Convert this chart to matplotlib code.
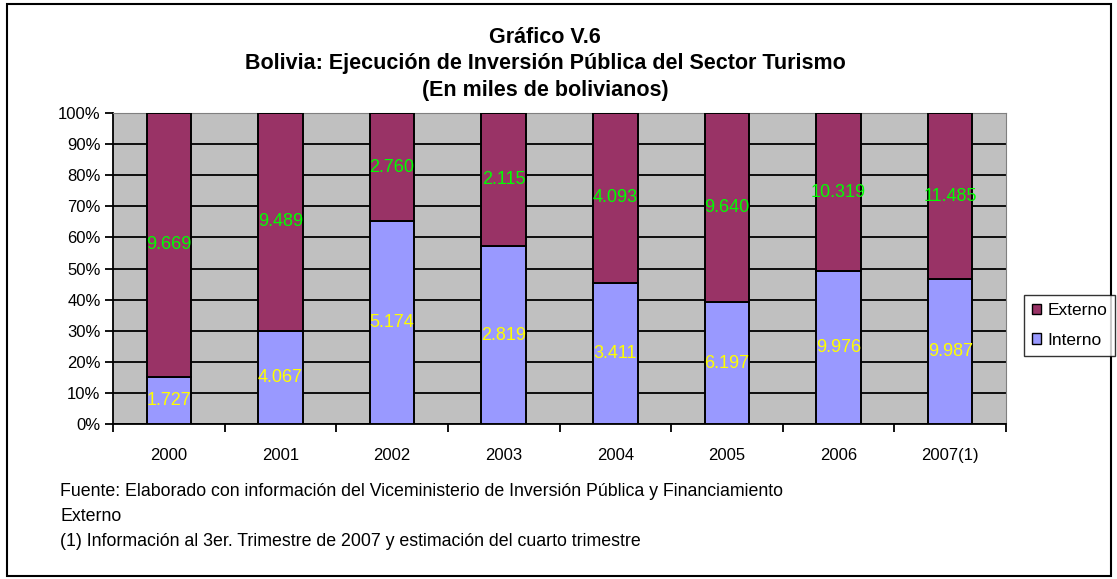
import numpy as np
import matplotlib
matplotlib.use("Agg")
import matplotlib.pyplot as plt
import matplotlib.patches as mpatches
from matplotlib.ticker import FixedLocator, PercentFormatter

plt.rcParams['font.family'] = ['Liberation Sans', 'DejaVu Sans']

# data (miles de bolivianos)
years = ['2000', '2001', '2002', '2003', '2004', '2005', '2006', '2007(1)']
interno = [1727, 4067, 5174, 2819, 3411, 6197, 9976, 9987]
externo = [9669, 9489, 2760, 2115, 4093, 9640, 10319, 11485]
interno_lbl = ['1.727', '4.067', '5.174', '2.819', '3.411', '6.197', '9.976', '9.987']
externo_lbl = ['9.669', '9.489', '2.760', '2.115', '4.093', '9.640', '10.319', '11.485']

title = 'Gráfico V.6\nBolivia: Ejecución de Inversión Pública del Sector Turismo\n(En miles de bolivianos)'
notes = ['Fuente: Elaborado con información del Viceministerio de Inversión Pública y Financiamiento',
         'Externo',
         '(1) Información al 3er. Trimestre de 2007 y estimación del cuarto trimestre']

c_int = '#9999FF'
c_ext = '#993366'

interno = np.array(interno, dtype=float)
externo = np.array(externo, dtype=float)
tot = interno + externo
p_int = interno / tot * 100
p_ext = externo / tot * 100

fig = plt.figure(figsize=(11.17, 5.79), dpi=100)
ax = fig.add_axes([0.1012, 0.2677, 0.7994, 0.5371])
ax.set_facecolor('#C0C0C0')

x = np.arange(len(years))
ax.bar(x, p_int, width=0.4, color=c_int, edgecolor='black', linewidth=1.4, zorder=3)
ax.bar(x, p_ext, width=0.4, bottom=p_int, color=c_ext, edgecolor='black', linewidth=1.4, zorder=3)

for i in range(len(years)):
    ax.text(x[i], p_int[i] / 2, interno_lbl[i], color='#FFFF00', ha='center', va='center',
            fontsize=13, zorder=4)
    ax.text(x[i], p_int[i] + p_ext[i] / 2, externo_lbl[i], color='#00FF00', ha='center', va='center',
            fontsize=13, zorder=4)

ax.set_xlim(-0.5, len(years) - 0.5)
ax.set_ylim(0, 100)
ax.yaxis.set_major_locator(FixedLocator(np.arange(0, 101, 10)))
ax.yaxis.set_major_formatter(PercentFormatter(decimals=0))
ax.grid(axis='y', color='black', linewidth=1.3, zorder=1)
ax.set_axisbelow(True)

ax.set_xticks(x)
ax.set_xticklabels(years)
ax.set_xticks(np.arange(-0.5, len(years)), minor=True)
ax.tick_params(axis='x', which='major', length=0, pad=17, labelsize=12)
ax.tick_params(axis='x', which='minor', length=6, direction='out', width=1.3)
ax.tick_params(axis='y', length=6, direction='out', width=1.3, labelsize=12, pad=3)

for s in ['top', 'right']:
    ax.spines[s].set_color('#808080')
for s in ['left', 'bottom']:
    ax.spines[s].set_color('black')
    ax.spines[s].set_linewidth(1.3)

fig.text(0.488, 1 - 64 / 579, title, ha='center', va='center', fontsize=15.5, fontweight='bold',
         linespacing=1.33)

for j, t in enumerate(notes):
    fig.text(0.054, 1 - (492 + 24.5 * j) / 579, t, ha='left', va='center', fontsize=12.75)

handles = [mpatches.Rectangle((0, 0), 1, 1, facecolor=c_ext, edgecolor='black'),
           mpatches.Rectangle((0, 0), 1, 1, facecolor=c_int, edgecolor='black')]
leg = fig.legend(handles, ['Externo', 'Interno'], loc='center left',
                 bbox_to_anchor=(0.9165, 0.438), frameon=True, fancybox=False,
                 edgecolor='black', fontsize=12.5, handlelength=0.55, handleheight=0.55,
                 handletextpad=0.35, borderpad=0.45, labelspacing=0.85, borderaxespad=0)
leg.get_frame().set_linewidth(1.0)

fig.add_artist(mpatches.Rectangle((0.006, 0.006), 0.989, 0.987, transform=fig.transFigure,
                                  fill=False, edgecolor='black', linewidth=1.5))

fig.savefig('out.png', dpi=100)
